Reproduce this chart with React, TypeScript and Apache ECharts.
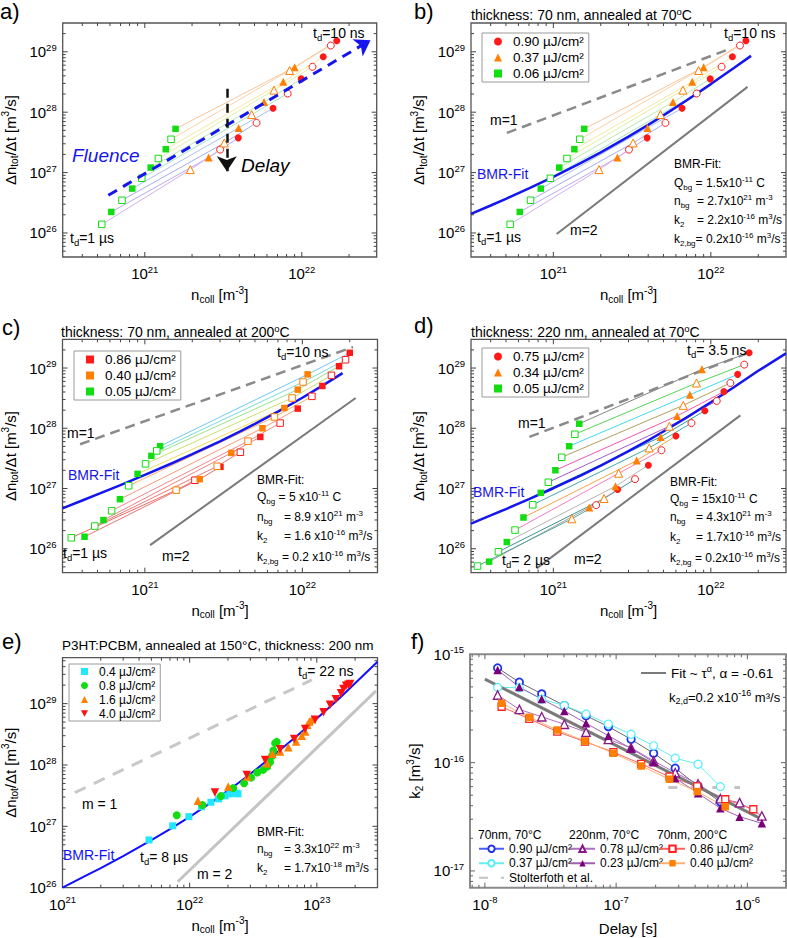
import React, { useEffect, useRef } from 'react';
import * as echarts from 'echarts';

const FONT = '"Liberation Sans", Arial, Helvetica, sans-serif';

// ---------------- axis ranges ----------------
const N_RANGE_ABCD = [3e20, 3e22];
const R_RANGE_ABCD = [4e25, 3e29];
const N_RANGE_E = [1e21, 3e23];
const R_RANGE_E = [1e26, 5.6e29];
const T_RANGE_F = [7.7e-9, 1.97e-6];
const K_RANGE_F = [7e-18, 1e-15];
const MINOR_MULTS = [2, 3, 4, 5, 6, 7, 8, 9];

// ---------------- panels a & b (delay ordered: 10 ns ... 1 us) ----------------
const AB_GREEN = [[1.57e21, 5.3e27], [1.47e21, 3.56e27], [1.36e21, 2.44e27], [1.22e21, 1.71e27], [1.09e21, 1.21e27], [9.57e20, 8.05e26], [8.32e20, 5.43e26], [7.16e20, 3.48e26], [6.12e20, 2.23e26], [5.32e20, 1.39e26]];
const AB_ORANGE = [[9.0e21, 5.57e28], [8.36e21, 4.91e28], [7.62e21, 3.18e28], [6.65e21, 2.32e28], [5.75e21, 1.47e28], [4.79e21, 9.14e27], [3.96e21, 5.5e27], [3.21e21, 3.1e27], [2.55e21, 1.77e27], [1.95e21, 1.12e27]];
const AB_RED = [[1.67e22, 1.52e29], [1.53e22, 1.27e29], [1.37e22, 8.26e28], [1.17e22, 5.64e28], [9.91e21, 3.56e28], [8.13e21, 2.04e28], [6.56e21, 1.16e28], [5.15e21, 6.65e27], [3.94e21, 3.76e27], [3.02e21, 2.4e27]];
const AB_DELAY_COLORS = ['#f7c49b', '#fbd2a6', '#f6e8a0', '#e3f0a0', '#b8eaae', '#a6e4c4', '#a9bff0', '#a3acf0', '#b9a9f0', '#d6aef0'];
const A_FLUENCE_ARROW = [[5.86e20, 4.21e26], [2.74e22, 1.56e29]];
const A_DELAY_ARROW = [[3.33e21, 2.44e28], [3.33e21, 1.05e27]];
const B_BMR_FIT = [[3e20, 2.07e26], [4e20, 2.85e26], [5e20, 3.68e26], [7e20, 5.47e26], [1e21, 8.51e26], [1.5e21, 1.45e27], [2e21, 2.16e27], [3e21, 3.93e27], [4e21, 6.16e27], [5e21, 8.86e27], [7e21, 1.56e28], [1e22, 2.92e28], [1.4e22, 5.38e28], [1.8e22, 8.57e28]];
const B_M1 = [[5.07e20, 4.54e27], [1.32e22, 1.12e29]];
const B_M2 = [[1.05e21, 9.6e25], [1.71e22, 2.63e28]];

// ---------------- panel c ----------------
const C_GREEN = [[1.25e21, 5.04e27], [1.19e21, 4.21e27], [1.1e21, 3.48e27], [1.01e21, 2.56e27], [8.99e20, 1.75e27], [7.89e20, 1.11e27], [6.95e20, 6.65e26], [6.15e20, 4.27e26], [5.46e20, 2.99e26], [4.81e20, 2.38e26], [4.14e20, 1.58e26], [3.41e20, 1.52e26]];
const C_ORANGE = [[1.08e22, 7.85e28], [1.01e22, 5.86e28], [9.35e21, 4.38e28], [8.61e21, 3.18e28], [7.69e21, 2.17e28], [6.65e21, 1.54e28], [5.58e21, 1.0e28], [4.52e21, 6.1e27], [3.54e21, 3.9e27], [2.88e21, 2.34e27], [2.23e21, 1.43e27], [1.58e21, 9.38e26]];
const C_RED = [[2.0e22, 1.79e29], [1.88e22, 1.37e29], [1.71e22, 1.07e29], [1.53e22, 7.55e28], [1.34e22, 5.04e28], [1.15e22, 3.39e28], [9.35e21, 2.12e28], [7.23e21, 1.22e28], [5.41e21, 7.18e27], [4.04e21, 4.0e27], [3.02e21, 2.29e27], [2.08e21, 1.37e27]];
const C_DELAY_COLORS = ['#6fc8f2', '#78dcd6', '#9ce08c', '#c8e070', '#f2d85e', '#f7b468', '#f59a7a', '#f38888', '#f08080', '#ee7878', '#ec7070', '#e86a6a'];
const C_BMR_FIT = [[3e20, 4.69e26], [4e20, 6.32e26], [5e20, 7.99e26], [7e20, 1.14e27], [1e21, 1.68e27], [1.5e21, 2.65e27], [2e21, 3.71e27], [3e21, 6.07e27], [4e21, 8.77e27], [5e21, 1.18e28], [7e21, 1.89e28], [1e22, 3.21e28], [1.4e22, 5.45e28], [1.8e22, 8.23e28]];
const C_M1 = [[3.88e20, 5.43e27], [2.1e22, 2.23e29]];
const C_M2 = [[1.08e21, 1.15e26], [2.18e22, 3.18e28]];

// ---------------- panel d ----------------
const D_GREEN = [[1.46e21, 1.19e28], [1.37e21, 7.96e27], [1.26e21, 5.04e27], [1.13e21, 3.3e27], [1.03e21, 2.01e27], [9.29e20, 1.27e27], [8.32e20, 8.47e26], [7.4e20, 5.36e26], [6.46e20, 3.3e26], [5.71e20, 2.04e26], [5.06e20, 1.29e26], [4.48e20, 8.91e25], [3.91e20, 6.1e25], [3.3e20, 5.16e25]];
const D_ORANGE = [[8.77e21, 9.51e28], [8.11e21, 5.64e28], [7.36e21, 3.61e28], [6.68e21, 2.4e28], [6.11e21, 1.6e28], [5.45e21, 1.08e28], [4.8e21, 7.18e27], [4.06e21, 4.72e27], [3.38e21, 2.91e27], [2.6e21, 1.79e27], [2.48e21, 1.09e27], [2.1e21, 6.82e26], [1.69e21, 4.84e26], [1.31e21, 3.14e26]];
const D_RED = [[1.75e22, 1.79e29], [1.63e22, 1.14e29], [1.48e22, 7.85e28], [1.33e22, 5.64e28], [1.21e22, 4.06e28], [1.09e22, 2.84e28], [9.16e21, 1.96e28], [7.53e21, 1.22e28], [6.0e21, 7.46e27], [4.86e21, 4.32e27], [4.01e21, 2.44e27], [3.3e21, 1.43e27], [2.56e21, 9.62e26], [1.87e21, 5.3e26]];
const D_DELAY_COLORS = ['#858585', '#55d455', '#40d8f0', '#b0a060', '#f055b4', '#a458c8', '#309a9a', '#44aaaa', '#f2a444', '#f27cc4', '#b4b4b4', '#3f9292', '#a2a2a2', '#58a4a4'];
const D_BMR_FIT = [[3e20, 2.62e26], [4e20, 3.57e26], [5e20, 4.56e26], [7e20, 6.65e26], [1e21, 1.01e27], [1.5e21, 1.65e27], [2e21, 2.39e27], [3e21, 4.16e27], [4e21, 6.31e27], [5e21, 8.84e27], [7e21, 1.5e28], [1e22, 2.7e28], [1.4e22, 4.8e28], [2e22, 9.0e28], [3e22, 1.75e29]];
const D_M1 = [[7.05e20, 7.18e27], [1.85e22, 1.91e29]];
const D_M2 = [[7.83e20, 4.72e25], [1.54e22, 1.64e28]];

// ---------------- panel e ----------------
const E_CYAN = [[4.79e21, 6.0e26], [7.35e21, 1.02e27], [9.86e21, 1.44e27], [1.24e22, 2.09e27], [1.47e22, 2.47e27], [1.69e22, 2.8e27], [1.9e22, 3.13e27], [2.07e22, 3.38e27], [2.2e22, 3.47e27], [2.34e22, 3.47e27], [2.4e22, 3.38e27]];
const E_GREEN = [[7.91e21, 1.52e27], [1.26e22, 2.23e27], [1.76e22, 3.13e27], [2.2e22, 4.19e27], [2.68e22, 5.05e27], [3.04e22, 6.22e27], [3.4e22, 7.52e27], [3.78e22, 8.32e27], [4.08e22, 9.42e27], [4.29e22, 1.12e28], [4.45e22, 1.41e28], [4.55e22, 1.72e28], [4.7e22, 2.27e28], [4.84e22, 2.38e28]];
const E_ORANGE = [[1.16e22, 2.62e27], [2.01e22, 4.45e27], [2.84e22, 6.47e27], [4.04e22, 1.07e28], [4.47e22, 1.52e28], [5.14e22, 1.66e28], [5.97e22, 1.95e28], [6.87e22, 2.41e28], [7.62e22, 2.99e28], [8.09e22, 3.51e28], [8.43e22, 4.51e28], [8.75e22, 5.11e28], [9.14e22, 5.58e28]];
const E_RED = [[1.58e22, 3.55e27], [2.81e22, 6.89e27], [3.92e22, 1.21e28], [5.14e22, 1.81e28], [6.64e22, 2.64e28], [8.09e22, 3.84e28], [9.7e22, 5.45e28], [1.13e23, 7.26e28], [1.27e23, 9.55e28], [1.41e23, 1.18e29], [1.55e23, 1.48e29], [1.62e23, 1.73e29], [1.7e23, 1.95e29], [1.77e23, 2.03e29], [1.83e23, 2.08e29]];
const E_BMR_FIT = [[1e21, 1.0e26], [1.5e21, 1.54e26], [2e21, 2.09e26], [3e21, 3.28e26], [5e21, 5.95e26], [7e21, 9.0e26], [1e22, 1.43e27], [1.5e22, 2.5e27], [2e22, 3.81e27], [3e22, 7.14e27], [5e22, 1.67e28], [7e22, 3.0e28], [1e23, 5.71e28], [1.5e23, 1.21e29], [2e23, 2.15e29], [3e23, 4.8e29]];
const E_M1 = [[1.25e21, 3.54e27], [9.14e22, 2.43e29]];
const E_M2 = [[8.05e21, 1.25e26], [2.92e23, 1.61e29]];

// ---------------- panel f ----------------
const F_DELAY_70 = [1.25e-8, 1.83e-8, 2.71e-8, 4.03e-8, 5.9e-8, 8.73e-8, 1.3e-7, 1.93e-7, 2.82e-7, 4.21e-7, 6.22e-7];
const F_DELAY_220 = [1.25e-8, 1.83e-8, 2.71e-8, 4.03e-8, 5.9e-8, 8.73e-8, 1.3e-7, 1.93e-7, 2.82e-7, 4.21e-7, 6.22e-7, 8.73e-7, 1.29e-6];
const F_DELAY_200 = [1.34e-8, 2.18e-8, 3.56e-8, 5.79e-8, 9.53e-8, 1.55e-7, 2.55e-7, 4.15e-7, 6.79e-7, 1.11e-6];
const F_K2_090 = [7.48e-16, 5.52e-16, 4.31e-16, 3.36e-16, 2.71e-16, 2.15e-16, 1.64e-16, 1.22e-16, 8.87e-17, 6.08e-17, 4.34e-17];
const F_K2_037 = [4.95e-16, 4.92e-16, 3.85e-16, 3.36e-16, 2.81e-16, 2.27e-16, 1.83e-16, 1.43e-16, 1.1e-16, 9.66e-17, 6.0e-17];
const F_K2_078 = [4.21e-16, 3.1e-16, 2.65e-16, 2.26e-16, 1.91e-16, 1.64e-16, 1.37e-16, 1.04e-16, 8.07e-17, 6.35e-17, 4.65e-17, 4.27e-17, 3.22e-17];
const F_K2_023 = [7.16e-16, 4.99e-16, 3.86e-16, 3.0e-16, 2.31e-16, 1.77e-16, 1.35e-16, 1.01e-16, 7.18e-17, 5.21e-17, 3.79e-17, 3.17e-17, 2.75e-17];
const F_K2_086 = [3.28e-16, 2.53e-16, 1.93e-16, 1.56e-16, 1.25e-16, 9.73e-17, 7.41e-17, 6.03e-17, 4.59e-17, 3.71e-17];
const F_K2_040 = [3.53e-16, 2.62e-16, 2.0e-16, 1.58e-16, 1.22e-16, 9.31e-17, 7.02e-17, 5.4e-17, 3.92e-17];
const F_FIT = [[1e-8, 5.9e-16], [1.32e-6, 2.96e-17]];
const F_STOLTERFOTH = [[2.5e-7, 5.9e-17], [8.8e-7, 5.9e-17]];

// ---------------- text helpers ----------------
const rt = (s: string): string => {
  let out = '';
  let buf = '';
  const flush = () => {
    if (buf) { out += '{n|' + buf + '}'; buf = ''; }
  };
  for (let i = 0; i < s.length; i++) {
    const c = s[i];
    if ((c === '^' || c === '_') && s[i + 1] === '{') {
      const j = s.indexOf('}', i + 2);
      flush();
      out += '{' + (c === '^' ? 'sup' : 'sub') + '|' + s.slice(i + 2, j) + '}';
      i = j;
    } else buf += c;
  }
  flush();
  return out;
};

const richSet = (F: number, color: string, italic = false, key = 'color') => {
  const sm = Math.round(F * 0.68 * 2) / 2;
  const mk = (o: any) => ({ ...o, [key]: color, fontFamily: FONT, fontStyle: italic ? 'italic' : 'normal' });
  return {
    n: mk({ fontSize: F, lineHeight: F + 4 }),
    sup: mk({ fontSize: sm, lineHeight: Math.round(F * 0.45), verticalAlign: 'top' }),
    sub: mk({ fontSize: sm, lineHeight: Math.round(F * 0.75), verticalAlign: 'bottom' }),
  };
};

const gtext = (x: number, y: number, s: string, F = 14, color = '#000', italic = false) => ({
  type: 'text', x, y, silent: true, z: 100,
  style: {
    text: rt(s), rich: richSet(F, color, italic, 'fill'), fill: color, fontSize: F, fontFamily: FONT,
    fontStyle: italic ? 'italic' : 'normal', align: 'left', verticalAlign: 'middle',
  },
});

const AXIS_RICH = {
  b: { fontSize: 15, lineHeight: 19, color: '#000', fontFamily: FONT },
  s: { fontSize: 9.5, lineHeight: 7, verticalAlign: 'top', color: '#000', fontFamily: FONT },
};
const powLabel = (v: number) => {
  const e = Math.log10(v);
  const r = Math.round(e);
  if (Math.abs(e - r) > 1e-6) return '';
  return '{b|10}{s|' + r + '}';
};

const GRIDS = [
  { left: 62.7, top: 23, width: 314, height: 234 },
  { left: 471, top: 23, width: 315, height: 234 },
  { left: 62.5, top: 339.3, width: 315, height: 233.4 },
  { left: 471, top: 339.3, width: 315, height: 233.4 },
  { left: 62.5, top: 657.7, width: 315, height: 230 },
  { left: 470, top: 654.3, width: 316, height: 233.4 },
];

const xAxisFor = (gi: number, range: number[], name: string, gap: number) => ({
  type: 'log', logBase: 10, gridIndex: gi, min: range[0], max: range[1],
  axisLine: { show: false }, axisTick: { show: false }, splitLine: { show: false },
  minorTick: { show: false }, minorSplitLine: { show: false },
  axisLabel: { formatter: powLabel, rich: AXIS_RICH, margin: 7 },
  name: rt(name), nameLocation: 'middle', nameGap: gap, nameMoveOverlap: false,
  nameTextStyle: { rich: richSet(15, '#000') },
});
const yAxisFor = (gi: number, range: number[], name: string, gap: number) => ({
  type: 'log', logBase: 10, gridIndex: gi, min: range[0], max: range[1],
  axisLine: { show: false }, axisTick: { show: false }, splitLine: { show: false },
  minorTick: { show: false }, minorSplitLine: { show: false },
  axisLabel: { formatter: powLabel, rich: AXIS_RICH, margin: 6 },
  name: rt(name), nameLocation: 'middle', nameGap: gap, nameRotate: 90, nameMoveOverlap: false,
  nameTextStyle: { rich: richSet(15, '#000') },
});

const decadeTicks = (range: number[]) => {
  const major: number[] = [];
  const minor: number[] = [];
  const e0 = Math.floor(Math.log10(range[0])) - 1;
  const e1 = Math.ceil(Math.log10(range[1]));
  for (let e = e0; e <= e1; e++) {
    const d = Math.pow(10, e);
    if (d > range[0] * 1.001 && d < range[1] * 0.999) major.push(d);
    MINOR_MULTS.forEach((m) => {
      const v = m * d;
      if (v > range[0] * 1.001 && v < range[1] * 0.999) minor.push(v);
    });
  }
  return { major, minor };
};

const tickSeries = (gi: number, xr: number[], yr: number[], color: string) => {
  const xt = decadeTicks(xr);
  const yt = decadeTicks(yr);
  const data: number[][] = [];
  xt.major.forEach((v) => data.push([v, yr[0], 0, 5]));
  xt.minor.forEach((v) => data.push([v, yr[0], 0, 3]));
  yt.major.forEach((v) => data.push([xr[0], v, 1, 5]));
  yt.minor.forEach((v) => data.push([xr[0], v, 1, 3]));
  return {
    type: 'custom', xAxisIndex: gi, yAxisIndex: gi, silent: true, z: 6, clip: false,
    dimensions: ['x', 'y', 'o', 'l'], encode: { x: 0, y: 1 }, data,
    renderItem: (params: any, api: any) => {
      const o = api.value(2);
      const L = api.value(3);
      const st = { stroke: color, lineWidth: 1 };
      if (o === 0) {
        const v = api.value(0);
        const b = api.coord([v, yr[0]]);
        const t = api.coord([v, yr[1]]);
        return {
          type: 'group', children: [
            { type: 'line', shape: { x1: b[0], y1: b[1], x2: b[0], y2: b[1] - L }, style: st },
            { type: 'line', shape: { x1: t[0], y1: t[1], x2: t[0], y2: t[1] + L }, style: st },
          ],
        };
      }
      const v = api.value(1);
      const l = api.coord([xr[0], v]);
      const r = api.coord([xr[1], v]);
      return {
        type: 'group', children: [
          { type: 'line', shape: { x1: l[0], y1: l[1], x2: l[0] + L, y2: l[1] }, style: st },
          { type: 'line', shape: { x1: r[0], y1: r[1], x2: r[0] - L, y2: r[1] }, style: st },
        ],
      };
    },
  };
};

const ln = (gi: number, data: number[][], color: string, width: number, type: any = 'solid', z = 2) => ({
  type: 'line', xAxisIndex: gi, yAxisIndex: gi, data, showSymbol: false, symbol: 'none', silent: true,
  lineStyle: { color, width, type }, z, smooth: false,
});

const scat = (name: string, gi: number, data: number[][], symbol: string, color: string, open: boolean, size: number, rotate = 0) => ({
  type: 'scatter', name, xAxisIndex: gi, yAxisIndex: gi, data, symbol, symbolSize: size, symbolRotate: rotate, z: 4, silent: true,
  itemStyle: open ? { color: '#fff', borderColor: color, borderWidth: 1, opacity: 1 } : { color, borderWidth: 0, opacity: 1 },
});

const markerPair = (name: string, gi: number, arr: number[][], symbol: string, color: string, size: number) => [
  scat(name, gi, arr.filter((_, i) => i % 2 === 0), symbol, color, false, size),
  scat(name + ' (open)', gi, arr.filter((_, i) => i % 2 === 1), symbol, color, true, size),
];

const delayLines = (gi: number, G: number[][], O: number[][], R: number[][], colors: string[]) =>
  G.map((g, i) => ln(gi, [g, O[i], R[i]], colors[i], 1));

const arrowHolder = (gi: number, pts: number[][], color: string, width: number, dash: number[]) => ({
  type: 'scatter', xAxisIndex: gi, yAxisIndex: gi, data: [pts[0]], symbolSize: 0, silent: true, z: 7,
  markLine: {
    silent: true, animation: false, symbol: ['none', 'arrow'], symbolSize: 15, label: { show: false },
    lineStyle: { color, width, type: dash }, itemStyle: { color },
    data: [[{ coord: pts[0] }, { coord: pts[1] }]],
  },
});

const boxLegend = (left: number, top: number, names: any[], F: number, LH: number, icon = 8) => ({
  show: true, left, top, orient: 'vertical', data: names, selectedMode: false,
  itemWidth: icon, itemHeight: icon, itemGap: 1, padding: [1, 5, 1, 12], symbolKeepAspect: true,
  borderColor: '#9a9a9a', borderWidth: 1, backgroundColor: '#fff',
  formatter: (n: string) => n.split('|')[1],
  textStyle: { fontSize: F, lineHeight: LH, fontFamily: FONT, color: '#000', padding: [0, 0, 0, 6] },
});

const fLegend = (left: number, top: number, data: any[]) => ({
  show: true, left, top, orient: 'vertical', data, selectedMode: false,
  itemWidth: 25, itemHeight: 8, itemGap: 1, padding: 0,
  formatter: (n: string) => n.split('|')[1],
  textStyle: { fontSize: 12, lineHeight: 13.5, fontFamily: FONT, color: '#000' },
});

const fLine = (name: string, times: number[], k2: number[], symbol: string, mColor: string, lColor: string, open: boolean, size = 7, bw = 1.3) => ({
  type: 'line', name, xAxisIndex: 5, yAxisIndex: 5, data: times.map((t, i) => [t, k2[i]]),
  symbol, symbolSize: size, showSymbol: true, silent: true, z: 3,
  lineStyle: { color: lColor, width: 1 },
  itemStyle: open ? { color: '#fff', borderColor: mColor, borderWidth: bw } : { color: mColor, borderWidth: 0 },
});

const NO_SYMBOL = { color: 'rgba(0,0,0,0)', borderWidth: 0, opacity: 0 };

function buildOption() {
  const series: any[] = [];
  // ---- a ----
  series.push(...delayLines(0, AB_GREEN, AB_ORANGE, AB_RED, AB_DELAY_COLORS));
  series.push(...markerPair('a|0.90', 0, AB_RED, 'circle', '#ff1a1a', 7));
  series.push(...markerPair('a|0.37', 0, AB_ORANGE, 'triangle', '#ff7f00', 8));
  series.push(...markerPair('a|0.06', 0, AB_GREEN, 'rect', '#11dd11', 6.5));
  series.push(arrowHolder(0, A_FLUENCE_ARROW, '#1515ee', 3, [10, 7]));
  series.push(arrowHolder(0, A_DELAY_ARROW, '#111', 2.5, [9, 6]));
  series.push(tickSeries(0, N_RANGE_ABCD, R_RANGE_ABCD, '#444'));
  // ---- b ----
  series.push(...delayLines(1, AB_GREEN, AB_ORANGE, AB_RED, AB_DELAY_COLORS));
  series.push(ln(1, B_M1, '#8a8a8a', 2.5, [10, 6]));
  series.push(ln(1, B_M2, '#7a7a7a', 2));
  series.push(ln(1, B_BMR_FIT, '#1515ee', 2.5, 'solid', 3));
  series.push(...markerPair('b|0.90 µJ/cm²', 1, AB_RED, 'circle', '#ff1a1a', 7));
  series.push(...markerPair('b|0.37 µJ/cm²', 1, AB_ORANGE, 'triangle', '#ff7f00', 8));
  series.push(...markerPair('b|0.06 µJ/cm²', 1, AB_GREEN, 'rect', '#11dd11', 6.5));
  series.push(tickSeries(1, N_RANGE_ABCD, R_RANGE_ABCD, '#444'));
  // ---- c ----
  series.push(...delayLines(2, C_GREEN, C_ORANGE, C_RED, C_DELAY_COLORS));
  series.push(ln(2, C_M1, '#8a8a8a', 2.5, [10, 6]));
  series.push(ln(2, C_M2, '#7a7a7a', 2));
  series.push(ln(2, C_BMR_FIT, '#1515ee', 2.5, 'solid', 3));
  series.push(...markerPair('c|0.86 µJ/cm²', 2, C_RED, 'rect', '#ff1a1a', 6.5));
  series.push(...markerPair('c|0.40 µJ/cm²', 2, C_ORANGE, 'rect', '#ff7f00', 6.5));
  series.push(...markerPair('c|0.05 µJ/cm²', 2, C_GREEN, 'rect', '#11dd11', 6.5));
  series.push(tickSeries(2, N_RANGE_ABCD, R_RANGE_ABCD, '#444'));
  // ---- d ----
  series.push(...delayLines(3, D_GREEN, D_ORANGE, D_RED, D_DELAY_COLORS));
  series.push(ln(3, D_M1, '#8a8a8a', 2.5, [10, 6]));
  series.push(ln(3, D_M2, '#7a7a7a', 2));
  series.push(ln(3, D_BMR_FIT, '#1515ee', 2.5, 'solid', 3));
  series.push(...markerPair('d|0.75 µJ/cm²', 3, D_RED, 'circle', '#ff1a1a', 7));
  series.push(...markerPair('d|0.34 µJ/cm²', 3, D_ORANGE, 'triangle', '#ff7f00', 8));
  series.push(...markerPair('d|0.05 µJ/cm²', 3, D_GREEN, 'rect', '#11dd11', 6.5));
  series.push(tickSeries(3, N_RANGE_ABCD, R_RANGE_ABCD, '#444'));
  // ---- e ----
  series.push(ln(4, E_M1, '#c8c8c8', 3, [12, 9]));
  series.push(ln(4, E_M2, '#c4c4c4', 3));
  series.push(ln(4, E_BMR_FIT, '#1010ff', 2, 'solid', 3));
  series.push(scat('e|0.4 µJ/cm²', 4, E_CYAN, 'rect', '#22e6ff', false, 7));
  series.push(scat('e|0.8 µJ/cm²', 4, E_GREEN, 'circle', '#11dd11', false, 8));
  series.push(scat('e|1.6 µJ/cm²', 4, E_ORANGE, 'triangle', '#ff7f00', false, 8.5));
  series.push(scat('e|4.0 µJ/cm²', 4, E_RED, 'triangle', '#ff1010', false, 8.5, 180));
  series.push(tickSeries(4, N_RANGE_E, R_RANGE_E, '#444'));
  // ---- f ----
  series.push(fLine('f|0.90 µJ/cm²', F_DELAY_70, F_K2_090, 'circle', '#2233ee', '#6a6a6a', true, 7.5, 1.8));
  series.push(fLine('f|0.37 µJ/cm²', F_DELAY_70, F_K2_037, 'circle', '#55eeff', '#66eeee', true, 8, 1.2));
  series.push(fLine('f|0.78 µJ/cm²', F_DELAY_220, F_K2_078, 'triangle', '#8a1a8a', '#b070c0', true, 8.5, 1.3));
  series.push(fLine('f|0.23 µJ/cm²', F_DELAY_220, F_K2_023, 'triangle', '#7a007a', '#a060b0', false, 8.5));
  series.push(fLine('f|0.86 µJ/cm²', F_DELAY_200, F_K2_086, 'rect', '#ff2020', '#ff6060', true, 7, 1.3));
  series.push(fLine('f|0.40 µJ/cm²', F_DELAY_200, F_K2_040, 'rect', '#ff8000', '#ffb070', false, 7.5));
  series.push({
    type: 'line', name: 'f|Stolterfoth et al.', xAxisIndex: 5, yAxisIndex: 5, data: F_STOLTERFOTH, symbol: 'none', showSymbol: false, silent: true, z: 2,
    lineStyle: { color: '#c4c4c4', width: 3, type: [9, 13] }, itemStyle: { color: '#c4c4c4' },
  });
  series.push({
    type: 'line', name: 'f|Fit', xAxisIndex: 5, yAxisIndex: 5, data: F_FIT, symbol: 'none', showSymbol: false, silent: true, z: 3,
    lineStyle: { color: '#7a7a7a', width: 3 }, itemStyle: { color: '#7a7a7a' },
  });
  series.push(tickSeries(5, T_RANGE_F, K_RANGE_F, '#666'));

  const yName = 'Δn_{tot}/Δt [m^{3}/s]';
  const xName = 'n_{coll} [m^{-3}]';
  const T = 12;

  const graphic: any[] = [
    // panel letters
    gtext(0, 11, 'a)', 22), gtext(414, 11, 'b)', 22), gtext(2, 327, 'c)', 22),
    gtext(414, 325, 'd)', 22), gtext(2, 641, 'e)', 22), gtext(411, 641, 'f)', 22),
    // a
    gtext(313, 33, 't_{d}=10 ns', 14), gtext(70, 238, 't_{d}=1 µs', 14),
    gtext(72, 155, 'Fluence', 19, '#1515ee', true), gtext(241, 165, 'Delay', 19, '#000', true),
    // b
    gtext(471, 15, 'thickness: 70 nm, annealed at 70^{o}C', 14),
    gtext(724, 33, 't_{d}=10 ns', 14), gtext(490, 120, 'm=1', 14), gtext(477, 174, 'BMR-Fit', 14, '#1515ee'),
    gtext(477, 237, 't_{d}=1 µs', 14), gtext(570, 230, 'm=2', 14),
    gtext(674, 164, 'BMR-Fit:', T), gtext(674, 183, 'Q_{bg} = 1.5x10^{-11} C', T),
    gtext(674, 201, 'n_{bg}', T), gtext(697, 201, '= 2.7x10^{21} m^{-3}', T),
    gtext(674, 220, 'k_{2}', T), gtext(697, 220, '= 2.2x10^{-16} m^{3}/s', T),
    gtext(674, 239, 'k_{2,bg}= 0.2x10^{-16} m^{3}/s', T),
    // c
    gtext(61, 332, 'thickness: 70 nm, annealed at 200^{o}C', 14),
    gtext(277, 352, 't_{d}=10 ns', 14), gtext(67, 433, 'm=1', 14), gtext(68, 475, 'BMR-Fit', 14, '#1515ee'),
    gtext(63, 553, 't_{d}=1 µs', 14), gtext(162, 556, 'm=2', 14),
    gtext(257, 480, 'BMR-Fit:', T), gtext(257, 497, 'Q_{bg} = 5 x10^{-11} C', T),
    gtext(257, 517, 'n_{bg}', T), gtext(284, 517, '= 8.9 x10^{21} m^{-3}', T),
    gtext(257, 536, 'k_{2}', T), gtext(284, 536, '= 1.6 x10^{-16} m^{3}/s', T),
    gtext(257, 557, 'k_{2,bg} = 0.2 x10^{-16} m^{3}/s', T),
    // d
    gtext(471, 332, 'thickness: 220 nm, annealed at 70^{o}C', 14),
    gtext(687, 350, 't_{d}= 3.5 ns', 14), gtext(518, 423, 'm=1', 14), gtext(473, 492, 'BMR-Fit', 14, '#1515ee'),
    gtext(502, 560, 't_{d}= 2 µs', 14), gtext(574, 559, 'm=2', 14),
    gtext(670, 482, 'BMR-Fit:', T), gtext(670, 499, 'Q_{bg} = 15x10^{-11} C', T),
    gtext(670, 517, 'n_{bg}', T), gtext(696, 517, '= 4.3x10^{21} m^{-3}', T),
    gtext(670, 537, 'k_{2}', T), gtext(696, 537, '= 1.7x10^{-16} m^{3}/s', T),
    gtext(670, 558, 'k_{2,bg} = 0.2x10^{-16} m^{3}/s', T),
    // e
    gtext(62, 645, 'P3HT:PCBM, annealed at 150°C, thickness: 200 nm', 13.5),
    gtext(298, 671, 't_{d}= 22 ns', 14), gtext(82, 804, 'm = 1', 14), gtext(63, 855, 'BMR-Fit', 14, '#1010ff'),
    gtext(140, 857, 't_{d}= 8 µs', 14), gtext(197, 874, 'm = 2', 14),
    gtext(257, 832, 'BMR-Fit:', T),
    gtext(257, 849, 'n_{bg}', T), gtext(284, 849, '= 3.3x10^{22} m^{-3}', T),
    gtext(257, 868, 'k_{2}', T), gtext(284, 868, '= 1.7x10^{-18} m^{3}/s', T),
    // f
    gtext(669, 697, 'k_{2,d}=0.2 x10^{-16} m³/s', 13),
    gtext(478, 835, '70nm, 70°C', 12), gtext(569, 835, '220nm, 70°C', 12), gtext(657, 835, '70nm, 200°C', 12),
  ];

  return {
    animation: false,
    backgroundColor: '#fff',
    textStyle: { fontFamily: FONT },
    grid: GRIDS.map((g, i) => ({
      ...g, show: true, containLabel: false, outerBoundsMode: 'none',
      borderColor: i === 5 ? '#8a8a8a' : '#555', borderWidth: i === 5 ? 2 : 1.3, backgroundColor: 'transparent',
    })),
    xAxis: [
      xAxisFor(0, N_RANGE_ABCD, xName, 28), xAxisFor(1, N_RANGE_ABCD, xName, 28),
      xAxisFor(2, N_RANGE_ABCD, xName, 28), xAxisFor(3, N_RANGE_ABCD, xName, 28),
      xAxisFor(4, N_RANGE_E, xName, 28), xAxisFor(5, T_RANGE_F, 'Delay [s]', 31),
    ],
    yAxis: [
      yAxisFor(0, R_RANGE_ABCD, yName, 43), yAxisFor(1, R_RANGE_ABCD, yName, 43),
      yAxisFor(2, R_RANGE_ABCD, yName, 43), yAxisFor(3, R_RANGE_ABCD, yName, 43),
      yAxisFor(4, R_RANGE_E, yName, 43), yAxisFor(5, K_RANGE_F, 'k_{2} [m^{3}/s]', 46),
    ],
    legend: [
      boxLegend(482, 33, ['b|0.90 µJ/cm²', 'b|0.37 µJ/cm²', 'b|0.06 µJ/cm²'], 13.5, 15),
      boxLegend(74, 351, ['c|0.86 µJ/cm²', 'c|0.40 µJ/cm²', 'c|0.05 µJ/cm²'], 13.5, 15),
      boxLegend(482, 348, ['d|0.75 µJ/cm²', 'd|0.34 µJ/cm²', 'd|0.05 µJ/cm²'], 13.5, 15),
      boxLegend(69, 664, ['e|0.4 µJ/cm²', 'e|0.8 µJ/cm²', 'e|1.6 µJ/cm²', { name: 'e|4.0 µJ/cm²', icon: 'path://M0,0L10,0L5,9Z' }], 12, 13, 7),
      fLegend(478, 842, [{ name: 'f|0.90 µJ/cm²', lineStyle: { color: '#4a5cff' } }, 'f|0.37 µJ/cm²', { name: 'f|Stolterfoth et al.', itemStyle: NO_SYMBOL }]),
      fLegend(569, 842, ['f|0.78 µJ/cm²', 'f|0.23 µJ/cm²']),
      fLegend(659, 842, ['f|0.86 µJ/cm²', 'f|0.40 µJ/cm²']),
      {
        show: true, left: 640, top: 664, orient: 'horizontal', data: [{ name: 'f|Fit', itemStyle: NO_SYMBOL }], selectedMode: false,
        itemWidth: 25, itemHeight: 10, padding: 0,
        formatter: () => '{a|Fit ~ τ}{s|α}{a|, α = -0.61}',
        textStyle: {
          rich: {
            a: { fontSize: 13.5, lineHeight: 18, color: '#000', fontFamily: FONT },
            s: { fontSize: 9, lineHeight: 7, verticalAlign: 'top', color: '#000', fontFamily: FONT },
          },
        },
      },
    ],
    series,
    graphic,
  };
}

export default function App() {
  const ref = useRef<HTMLDivElement>(null);
  useEffect(() => {
    if (!ref.current) return;
    const chart = echarts.init(ref.current, undefined, { renderer: 'svg' });
    chart.setOption(buildOption() as any);
    return () => chart.dispose();
  }, []);
  return <div ref={ref} style={{ position: 'absolute', left: 0, top: 0, width: 787, height: 938 }} />;
}
